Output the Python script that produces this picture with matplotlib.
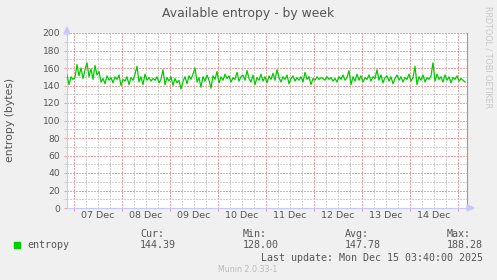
import numpy as np
import matplotlib
matplotlib.use('Agg')
import matplotlib.pyplot as plt
from matplotlib.patches import Polygon, Rectangle

# hourly samples, first one at Dec 6 20:30 (hours relative to Dec 7 00:00)
start_hour = -3.5
entropy = [
    152, 141, 150, 147, 149, 164, 151, 160, 148, 158,
    166, 150, 159, 147, 163, 152, 156, 144, 148, 142,
    151, 146, 149, 143, 150, 147, 152, 140, 147, 145,
    150, 141, 149, 146, 153, 162, 144, 150, 141, 153,
    146, 149, 145, 148, 146, 150, 143, 147, 158, 141,
    149, 145, 150, 140, 148, 143, 146, 136, 145, 150,
    142, 151, 147, 153, 160, 144, 149, 138, 150, 145,
    152, 146, 137, 151, 147, 156, 143, 150, 146, 153,
    148, 151, 144, 149, 147, 155, 145, 150, 152, 146,
    157, 148, 144, 152, 141, 149, 146, 153, 145, 150,
    143, 151, 147, 154, 146, 158, 149, 144, 150, 147,
    152, 142, 148, 151, 145, 149, 146, 150, 144, 155,
    147, 150, 141, 148, 146, 150, 147, 149, 148, 146,
    150, 147, 149, 145, 148, 144, 150, 147, 152, 146,
    149, 157, 141, 150, 145, 153, 146, 151, 144, 149,
    147, 152, 145, 150, 148, 158, 146, 152, 143, 149,
    151, 145, 150, 142, 148, 152, 146, 150, 144, 149,
    147, 153, 145, 149, 162, 141, 150, 146, 152, 144,
    149, 147, 151, 166, 145, 153, 147, 150, 144, 152,
    146, 150, 143, 149, 147, 151, 145, 148, 146, 144,
]
day_labels = ['07 Dec', '08 Dec', '09 Dec', '10 Dec', '11 Dec', '12 Dec', '13 Dec', '14 Dec']
stats_names = ['Cur:', 'Min:', 'Avg:', 'Max:']
stats_values = ['144.39', '128.00', '147.78', '188.28']
last_update = 'Last update: Mon Dec 15 03:40:00 2025'

W, H = 497, 280
bg = '#F0F0F0'
green = '#00CC00'
major_c = '#F2A0A0'
minor_c = '#D0D0D0'
axis_c = '#C8C8FF'
txt_c = '#555555'

plt.rcParams['font.family'] = 'DejaVu Sans'
fig = plt.figure(figsize=(W / 100, H / 100), dpi=100, facecolor=bg)

def fx(px):
    return px / W

def fy(py):
    return 1 - py / H

ax = fig.add_axes([fx(67), fy(208), 400 / W, 175 / H])
ax.set_facecolor('white')

hours = start_hour + np.arange(len(entropy))
ax.plot(hours, entropy, color=green, lw=0.9, zorder=3)

ax.set_xlim(-3.5, 196.5)
ax.set_ylim(0, 200)
ax.set_xticks(np.arange(0, 193, 24))
ax.set_xticks(np.arange(-0, 197, 6), minor=True)
ax.set_yticks(np.arange(0, 201, 20))
ax.set_yticks(np.arange(0, 201, 10), minor=True)
ax.set_xticklabels([])
ax.set_axisbelow(True)
ax.grid(which='minor', color=minor_c, lw=1.0, linestyle=(0, (1, 1)), antialiased=False)
ax.grid(which='major', color=major_c, lw=1.0, linestyle=(0, (1, 1)), antialiased=False)
ax.tick_params(which='major', axis='x', length=2, width=0.72, color=major_c)
ax.tick_params(which='minor', axis='x', length=0)
ax.tick_params(which='major', axis='y', length=2, width=0.72, color=major_c,
               labelsize=6.6, labelcolor=txt_c, pad=3)
ax.tick_params(which='minor', axis='y', length=2, width=0.72, color=minor_c)

for i, lab in enumerate(day_labels):
    ax.text(12 + 24 * i, -8, lab, transform=ax.transData, ha='center', va='center',
            fontsize=6.8, color=txt_c, clip_on=False)

for s in ['top']:
    ax.spines[s].set_visible(False)
ax.spines['left'].set_color(axis_c)
ax.spines['bottom'].set_color(axis_c)
ax.spines['right'].set_color('#999999')
for s in ax.spines.values():
    s.set_linewidth(0.8)

# axis arrows
fig.patches.append(Polygon([[fx(64), fy(34)], [fx(70), fy(34)], [fx(67), fy(27)]],
                           closed=True, color=axis_c, transform=fig.transFigure))
fig.patches.append(Polygon([[fx(467), fy(205)], [fx(467), fy(211)], [fx(474), fy(208)]],
                           closed=True, color=axis_c, transform=fig.transFigure))

fig.text(fx(248), fy(13), 'Available entropy - by week', ha='center', va='center',
         fontsize=8.9, color=txt_c)
fig.text(fx(10), fy(120), 'entropy (bytes)', rotation=90, ha='center', va='center',
         fontsize=7.8, color=txt_c)
fig.text(fx(488), fy(6), 'RRDTOOL / TOBI OETIKER', rotation=270, ha='center', va='top',
         fontsize=5.8, color='#C8C8C8')

# legend block
fig.patches.append(Rectangle((fx(14), fy(248)), 6 / W, 6 / H, color=green,
                             transform=fig.transFigure))
mono = 'DejaVu Sans Mono'
fig.text(fx(27), fy(245.5), 'entropy', ha='left', va='center', fontsize=7.2,
         family=mono, color=txt_c)
col_x = [140, 243, 345, 447]
for x, n, v in zip(col_x, stats_names, stats_values):
    fig.text(fx(x), fy(234), n, ha='left', va='center', fontsize=7.2, family=mono, color=txt_c)
    fig.text(fx(x), fy(245.5), v, ha='left', va='center', fontsize=7.2, family=mono, color=txt_c)
fig.text(fx(483), fy(258), last_update, ha='right', va='center', fontsize=7.2,
         family=mono, color=txt_c)
fig.text(fx(248), fy(269.5), 'Munin 2.0.33-1', ha='center', va='center', fontsize=5.7,
         color='#BBBBBB')

fig.savefig('out.png', dpi=100, facecolor=bg)
